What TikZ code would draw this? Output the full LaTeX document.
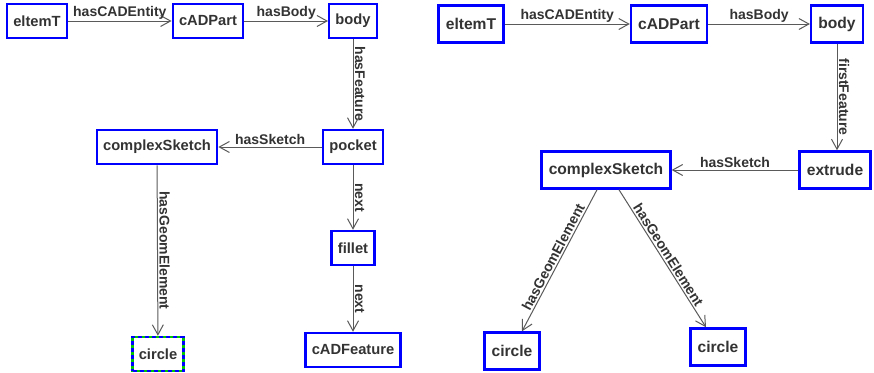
\documentclass[tikz,border=0pt]{standalone}
\usepackage{fontspec}
\setmainfont{Liberation Sans}
\usetikzlibrary{arrows.meta}
\definecolor{boxblue}{RGB}{0,0,255}
\definecolor{txt}{RGB}{51,51,51}
\definecolor{edgec}{RGB}{90,90,90}
\definecolor{dashgreen}{RGB}{0,200,0}
\begin{document}
\begin{tikzpicture}[x=1pt,y=-1pt,
  box/.style={draw=boxblue, line width=2.5pt, fill=white, text=txt,
    font=\bfseries\fontsize{14.7}{16}\selectfont, inner xsep=6.2pt, inner ysep=0pt, minimum height=34pt},
  bigbox/.style={box, font=\bfseries\fontsize{15.6}{17}\selectfont, inner xsep=7.2pt, minimum height=37pt},
  dashbox/.style={draw=dashgreen, postaction={draw=boxblue, dash pattern=on 4pt off 3pt}},
  rel/.style={draw=edgec, line width=1pt, -{Straight Barb[length=10pt,width=11pt]}},
  lab/.style={text=txt, font=\bfseries\fontsize{14}{16}\selectfont, inner sep=1.5pt},
]
\fill[white] (0,0) rectangle (874,372);
\useasboundingbox (0,0) rectangle (874,372);

% left graph
\node[box] (a1) at (37,21) {eltemT};
\node[box] (a2) at (208,21) {cADPart};
\node[box] (a3) at (353,21) {body};
\node[box] (a4) at (353,147) {pocket};
\node[box] (a5) at (157,147) {complexSketch};
\node[box,dashbox] (a6) at (158,354) {circle};
\node[box] (a7) at (353,248) {fillet};
\node[box] (a8) at (353,350) {cADFeature};

\draw[rel] (a1) -- node[lab,above]{hasCADEntity} (a2);
\draw[rel] (a2) -- node[lab,above]{hasBody} (a3);
\draw[rel] (a3) -- node[lab,rotate=-90,anchor=south]{hasFeature} (a4);
\draw[rel] (a4) -- node[lab,above]{hasSketch} (a5);
\draw[rel] (a5) -- node[lab,rotate=-90,anchor=south]{hasGeomElement} (a6);
\draw[rel] (a4) -- node[lab,rotate=-90,anchor=south]{next} (a7);
\draw[rel] (a7) -- node[lab,rotate=-90,anchor=south]{next} (a8);

% right graph
\node[bigbox] (b1) at (471,24) {eltemT};
\node[bigbox] (b2) at (669,24) {cADPart};
\node[bigbox] (b3) at (837,24) {body};
\node[bigbox] (b4) at (835,170) {extrude};
\node[bigbox] (b5) at (606,170) {complexSketch};
\node[bigbox] (b6) at (512,351) {circle};
\node[bigbox] (b7) at (718,347) {circle};

\draw[rel] (b1) -- node[lab,above]{hasCADEntity} (b2);
\draw[rel] (b2) -- node[lab,above]{hasBody} (b3);
\draw[rel] (b3.south) -- node[lab,rotate=-90,anchor=south]{firstFeature} (b3.south |- b4.north);
\draw[rel] (b4) -- node[lab,above]{hasSketch} (b5);
\draw[rel] ([xshift=-9pt]b5.south) -- node[lab,sloped,above]{hasGeomElement} ([xshift=10pt]b6.north);
\draw[rel] ([xshift=13pt]b5.south) -- node[lab,sloped,above]{hasGeomElement} ([xshift=-12pt]b7.north);
\end{tikzpicture}
\end{document}
